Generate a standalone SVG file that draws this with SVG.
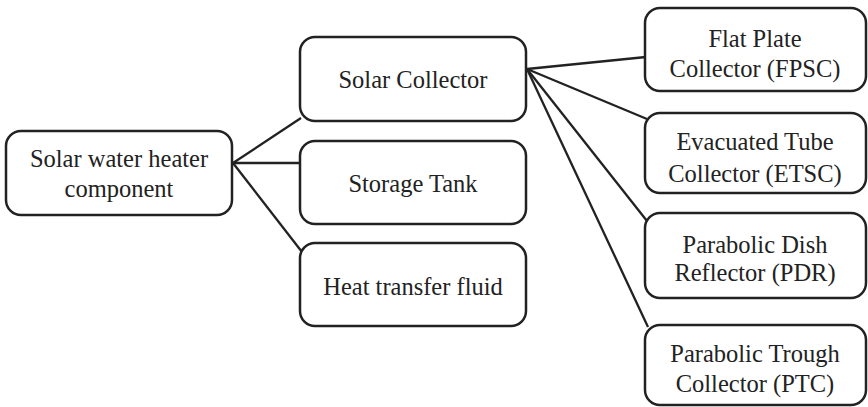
<svg xmlns="http://www.w3.org/2000/svg" width="868" height="407" viewBox="0 0 868 407">
<style>
.box{fill:#fff;stroke:#222;stroke-width:2.5}
.t{font-family:"Liberation Serif","Times New Roman",serif;font-size:24.5px;fill:#222;text-anchor:middle}
.c{stroke:#222;stroke-width:2.3;fill:none}
</style>
<rect width="868" height="407" fill="#fff"/>
<g id="connectors">
<line class="c" x1="233" y1="163" x2="301" y2="118"/>
<line class="c" x1="233" y1="163" x2="300" y2="163"/>
<line class="c" x1="233" y1="163" x2="302" y2="252"/>
<line class="c" x1="527" y1="69" x2="646" y2="57"/>
<line class="c" x1="527" y1="69" x2="647" y2="119"/>
<line class="c" x1="527" y1="69" x2="647" y2="221"/>
<line class="c" x1="527" y1="69" x2="648" y2="327"/>
</g>
<g id="root">
<rect class="box" x="6" y="131" width="226" height="84" rx="15"/>
<text class="t" x="119" y="167">Solar water heater</text>
<text class="t" x="119" y="197">component</text>
</g>
<g id="solar-collector">
<rect class="box" x="300" y="37" width="226" height="84" rx="15"/>
<text class="t" x="413" y="88">Solar Collector</text>
</g>
<g id="storage-tank">
<rect class="box" x="300" y="141" width="226" height="83" rx="15"/>
<text class="t" x="413" y="192">Storage Tank</text>
</g>
<g id="heat-transfer-fluid">
<rect class="box" x="300" y="243" width="226" height="83" rx="15"/>
<text class="t" x="413" y="295">Heat transfer fluid</text>
</g>
<g id="fpsc">
<rect class="box" x="645" y="8" width="221" height="83" rx="15"/>
<text class="t" x="755" y="47">Flat Plate</text>
<text class="t" x="755" y="77">Collector (FPSC)</text>
</g>
<g id="etsc">
<rect class="box" x="645" y="113" width="221" height="80" rx="15"/>
<text class="t" x="755" y="150">Evacuated Tube</text>
<text class="t" x="755" y="182">Collector (ETSC)</text>
</g>
<g id="pdr">
<rect class="box" x="645" y="213" width="221" height="85" rx="15"/>
<text class="t" x="755" y="253">Parabolic Dish</text>
<text class="t" x="755" y="281">Reflector (PDR)</text>
</g>
<g id="ptc">
<rect class="box" x="645" y="325" width="221" height="80" rx="15"/>
<text class="t" x="755" y="362">Parabolic Trough</text>
<text class="t" x="755" y="392">Collector (PTC)</text>
</g>
</svg>
